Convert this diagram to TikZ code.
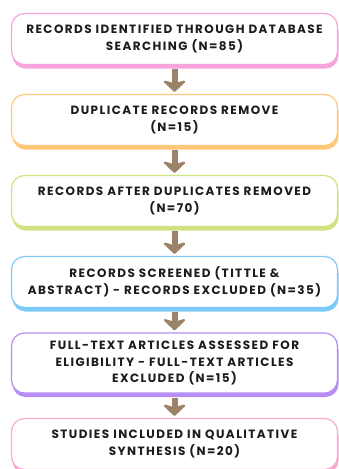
\documentclass[tikz,border=0pt]{standalone}
\usepackage{fontspec}
\usepackage{xcolor}
\usepackage{tikz}
\usetikzlibrary{arrows.meta, positioning, shadows}
\newfontfamily\stagefont{Poppins}[LetterSpace=12]
\definecolor{stagepink}{RGB}{248,164,220}
\definecolor{stageorange}{RGB}{255,200,120}
\definecolor{stagelime}{RGB}{208,226,128}
\definecolor{stageblue}{RGB}{124,202,247}
\definecolor{stagepurple}{RGB}{182,142,243}
\definecolor{stagerose}{RGB}{248,170,208}
\definecolor{arrowbrown}{RGB}{156,130,104}
\definecolor{stagetext}{RGB}{28,28,28}
\tikzset{stage/.style={rectangle, rounded corners=13pt, text width=306pt, inner xsep=10pt, inner ysep=8pt, minimum height=51pt, align=center, fill=white, draw=#1, line width=1.2pt, text=stagetext, font=\stagefont\bfseries\fontsize{12}{16.5}\selectfont, drop shadow={shadow xshift=1pt, shadow yshift=-4pt, fill=#1, opacity=1}}}
\tikzstyle{arrow} = [line width=6pt, -{Stealth[length=13pt, width=27pt, inset=4pt, round]}, draw=arrowbrown, shorten <=4pt, shorten >=2pt]

\begin{document}
\begin{tikzpicture}[node distance=81pt]
\useasboundingbox (0,0) rectangle (339pt,-469pt);
\clip (0,0) rectangle (339pt,-469pt);

\node (identified) [stage=stagepink] at (174.5pt,-39pt) {RECORDS IDENTIFIED THROUGH DATABASE\\SEARCHING (N=85)};
\node (duplicates) [stage=stageorange, below of=identified] {DUPLICATE RECORDS REMOVE\\(N=15)};
\node (remaining) [stage=stagelime, below of=duplicates] {RECORDS AFTER DUPLICATES REMOVED\\(N=70)};
\node (screened) [stage=stageblue, below of=remaining] {RECORDS SCREENED (TITTLE \&\\ABSTRACT) - RECORDS EXCLUDED (N=35)};
\node (eligibility) [stage=stagepurple, below of=screened] {FULL-TEXT ARTICLES ASSESSED FOR\\ELIGIBILITY - FULL-TEXT ARTICLES\\EXCLUDED (N=15)};
\node (included) [stage=stagerose, below of=eligibility] {STUDIES INCLUDED IN QUALITATIVE\\SYNTHESIS (N=20)};

\draw [arrow] (identified) -- (duplicates);
\draw [arrow] (duplicates) -- (remaining);
\draw [arrow] (remaining) -- (screened);
\draw [arrow] (screened) -- (eligibility);
\draw [arrow] (eligibility) -- (included);

\end{tikzpicture}
\end{document}
